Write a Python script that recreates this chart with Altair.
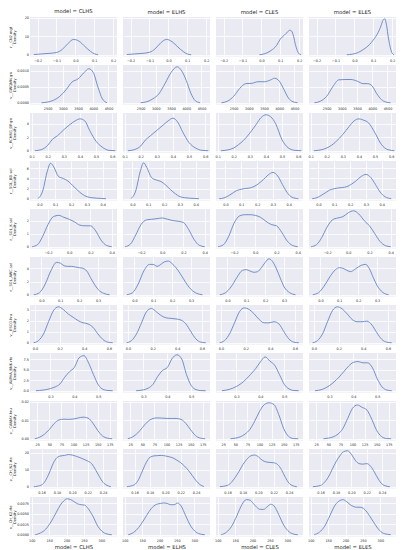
import altair as alt
import pandas as pd

MODELS = ["CLHS", "ELHS", "CLES", "ELES"]
PARAMS = ["r__CN2.mgt", "v__GWQMN.gw", "v__RCHRG_DP.gw", "r__SOL_BD.sol", "r__SOL_K.sol",
          "r__SOL_AWC.sol", "v__ESCO.hru", "v__ALPHA_BNK.rte", "v__CANMX.hru",
          "v__CH_N2.rte", "v__CH_K2.rte"]

# ---- density curves (one x grid per parameter) ----
CN2_X = [-0.22, -0.18, -0.14, -0.1, -0.07, -0.04, -0.01, 0.02, 0.05, 0.08, 0.1, 0.12, 0.14, 0.15, 0.16, 0.17, 0.18, 0.2, 0.21]
CN2_CLHS = [0.1, 0.4, 0.7, 1.2, 2.8, 6.0, 8.3, 7.3, 4.5, 1.8, 0.5, 0.0, None, None, None, None, None, None, None]
CN2_ELHS = [0.1, 0.4, 0.7, 1.3, 3.2, 6.5, 8.3, 7.0, 4.2, 1.6, 0.4, 0.0, None, None, None, None, None, None, None]
CN2_CLES = [None, None, None, None, None, None, 0.0, 0.6, 2.2, 5.0, 8.5, 10.5, 12.5, 13.3, 12.8, 10.0, 5.5, 0.4, 0.0]
CN2_ELES = [None, None, None, None, None, 0.0, 0.3, 1.2, 3.0, 5.5, 8.0, 11.0, 15.5, 18.5, 19.5, 16.0, 9.0, 0.8, 0.0]

GW_X = [2100, 2300, 2500, 2700, 2900, 3100, 3300, 3500, 3700, 3850, 4000, 4150, 4300, 4450, 4600]
GW_CLHS = [None, 0.0, 0.00002, 0.00008, 0.0002, 0.0004, 0.00065, 0.00075, 0.00095, 0.00107, 0.00095, 0.0005, 0.00012, 0.0, None]
GW_ELHS = [None, None, 0.0, 0.00003, 0.00012, 0.00028, 0.0006, 0.00095, 0.00113, 0.001, 0.0007, 0.0003, 0.00006, 0.0, None]
GW_CLES = [0.0, 0.00005, 0.0002, 0.00045, 0.0006, 0.00061, 0.00066, 0.00066, 0.00071, 0.00077, 0.00068, 0.00042, 0.00015, 0.00003, 0.0]
GW_ELES = [0.0, 0.00005, 0.0002, 0.0005, 0.00072, 0.00073, 0.00073, 0.00068, 0.0006, 0.0006, 0.00052, 0.00028, 0.0001, 0.00002, 0.0]

RC_X = [0.12, 0.16, 0.2, 0.23, 0.26, 0.3, 0.34, 0.37, 0.4, 0.43, 0.46, 0.5, 0.54, 0.58, 0.62]
RC_CLHS = [0.0, 0.15, 0.8, 1.7, 2.2, 3.1, 3.9, 4.4, 4.7, 4.4, 3.0, 1.4, 0.5, 0.05, 0.0]
RC_ELHS = [0.0, 0.15, 0.7, 1.6, 2.2, 3.0, 3.8, 4.4, 4.8, 4.2, 2.8, 1.2, 0.4, 0.05, 0.0]
RC_CLES = [0.0, 0.1, 0.4, 0.9, 1.5, 2.6, 3.9, 4.9, 5.3, 5.0, 4.0, 1.6, 0.4, 0.05, 0.0]
RC_ELES = [0.0, 0.1, 0.4, 0.8, 1.4, 2.4, 3.6, 4.4, 4.7, 4.5, 4.1, 2.6, 0.9, 0.15, 0.0]

BD_X = [-0.04, -0.01, 0.02, 0.05, 0.07, 0.09, 0.12, 0.15, 0.18, 0.21, 0.24, 0.27, 0.3, 0.33, 0.36, 0.39, 0.42, 0.46]
BD_CLHS = [None, 0.0, 1.5, 5.5, 7.0, 6.3, 4.4, 4.0, 3.5, 2.6, 1.7, 0.9, 0.4, 0.2, 0.1, 0.05, 0.0, None]
BD_ELHS = [None, 0.0, 1.5, 5.5, 7.1, 6.2, 4.2, 3.7, 3.4, 2.7, 1.8, 1.0, 0.4, 0.2, 0.1, 0.05, 0.0, None]
BD_CLES = [0.0, 0.15, 0.6, 1.2, 1.6, 1.8, 2.0, 2.1, 2.4, 3.0, 3.8, 4.7, 5.2, 4.5, 2.8, 1.2, 0.3, 0.0]
BD_ELES = [0.0, 0.2, 0.7, 1.3, 1.7, 1.9, 2.1, 2.2, 2.4, 2.9, 3.6, 4.4, 4.8, 4.2, 2.8, 1.3, 0.4, 0.0]

K_X = [-0.35, -0.3, -0.25, -0.2, -0.15, -0.1, -0.05, 0.0, 0.05, 0.1, 0.15, 0.2, 0.25, 0.3, 0.35, 0.4]
K_CLHS = [0.0, 0.15, 0.8, 1.7, 2.3, 2.4, 2.25, 2.1, 1.9, 1.65, 1.6, 1.6, 1.2, 0.5, 0.1, 0.0]
K_ELHS = [0.0, 0.2, 0.9, 1.7, 2.05, 2.1, 2.15, 2.2, 2.1, 2.0, 1.95, 1.85, 1.3, 0.55, 0.1, 0.0]
K_CLES = [0.0, 0.15, 0.8, 1.8, 2.35, 2.45, 2.45, 2.4, 2.25, 1.95, 1.7, 1.6, 1.1, 0.45, 0.1, 0.0]
K_ELES = [0.0, 0.15, 0.7, 1.5, 2.05, 2.2, 2.3, 2.6, 2.75, 2.5, 2.0, 1.6, 1.0, 0.4, 0.08, 0.0]

AWC_X = [-0.04, -0.01, 0.02, 0.05, 0.08, 0.1, 0.12, 0.14, 0.16, 0.18, 0.2, 0.22, 0.24, 0.26, 0.28, 0.3, 0.33, 0.36]
AWC_CLHS = [0.0, 0.3, 1.6, 3.6, 4.9, 4.8, 4.4, 4.3, 4.3, 4.2, 4.1, 4.0, 3.6, 2.6, 1.6, 0.8, 0.2, 0.0]
AWC_ELHS = [0.0, 0.3, 1.6, 3.6, 4.6, 4.6, 4.3, 4.6, 5.0, 5.1, 4.7, 4.1, 3.3, 2.4, 1.5, 0.8, 0.2, 0.0]
AWC_CLES = [0.0, 0.3, 1.2, 2.6, 3.7, 3.8, 3.6, 3.4, 3.5, 4.1, 4.9, 5.45, 5.0, 3.9, 2.5, 1.2, 0.3, 0.0]
AWC_ELES = [0.0, 0.3, 1.3, 2.7, 3.8, 4.1, 4.0, 3.7, 3.5, 3.8, 4.2, 4.5, 4.6, 3.9, 2.6, 1.4, 0.35, 0.0]

ESCO_X = [-0.01, 0.03, 0.07, 0.11, 0.15, 0.19, 0.23, 0.27, 0.31, 0.35, 0.39, 0.43, 0.47, 0.51, 0.55, 0.59, 0.63]
ESCO_CLHS = [0.0, 0.2, 0.8, 1.9, 2.9, 3.25, 3.0, 2.6, 2.3, 2.0, 1.8, 1.7, 1.4, 0.8, 0.3, 0.05, 0.0]
ESCO_ELHS = [0.0, 0.2, 0.8, 1.8, 2.8, 3.1, 2.8, 2.45, 2.25, 2.2, 2.15, 2.05, 1.7, 1.0, 0.35, 0.05, 0.0]
ESCO_CLES = [0.0, 0.2, 0.8, 1.8, 2.8, 3.15, 3.0, 2.6, 2.1, 1.8, 1.8, 1.9, 1.7, 1.0, 0.35, 0.05, 0.0]
ESCO_ELES = [0.0, 0.2, 0.8, 1.9, 2.9, 3.25, 3.05, 2.6, 2.1, 1.9, 1.9, 1.95, 1.6, 0.9, 0.3, 0.05, 0.0]

AB_X = [0.24, 0.27, 0.3, 0.32, 0.34, 0.36, 0.38, 0.4, 0.42, 0.44, 0.46, 0.48, 0.5, 0.52, 0.54, 0.56]
AB_CLHS = [0.0, 0.15, 0.5, 0.9, 1.6, 3.2, 4.5, 5.5, 7.8, 8.3, 6.5, 3.8, 1.4, 0.3, 0.05, 0.0]
AB_ELHS = [None, 0.0, 0.2, 0.6, 1.5, 3.4, 4.8, 5.5, 7.6, 8.5, 7.5, 3.8, 1.2, 0.25, 0.03, 0.0]
AB_CLES = [0.0, 0.3, 1.0, 1.7, 2.7, 3.9, 5.2, 6.8, 8.0, 7.0, 6.0, 3.8, 1.5, 0.4, 0.05, 0.0]
AB_ELES = [0.0, 0.3, 1.2, 2.1, 3.2, 4.5, 5.8, 6.7, 6.9, 6.6, 6.6, 5.4, 2.8, 0.9, 0.15, 0.0]

CAN_X = [20, 30, 40, 50, 60, 70, 80, 90, 100, 110, 120, 130, 140, 150, 160, 170, 180]
CAN_CLHS = [0.0, 0.0008, 0.0025, 0.005, 0.0082, 0.0102, 0.0106, 0.0105, 0.0107, 0.0113, 0.0117, 0.0112, 0.0085, 0.0045, 0.0015, 0.0003, 0.0]
CAN_ELHS = [0.0, 0.001, 0.003, 0.006, 0.009, 0.0108, 0.0113, 0.0112, 0.011, 0.011, 0.011, 0.0105, 0.0083, 0.0048, 0.0017, 0.0003, 0.0]
CAN_CLES = [None, None, 0.0, 0.0003, 0.001, 0.0025, 0.005, 0.0095, 0.0148, 0.0185, 0.0195, 0.0185, 0.013, 0.0055, 0.0013, 0.0001, 0.0]
CAN_ELES = [None, None, 0.0, 0.0003, 0.001, 0.0025, 0.0055, 0.011, 0.0165, 0.0183, 0.017, 0.0155, 0.0105, 0.0045, 0.0012, 0.0001, 0.0]

N2_X = [0.15, 0.16, 0.165, 0.17, 0.175, 0.18, 0.185, 0.19, 0.195, 0.2, 0.205, 0.21, 0.215, 0.22, 0.225, 0.23, 0.235, 0.24, 0.245, 0.25]
N2_CLHS = [0.0, 1.0, 3.5, 8.0, 13.5, 17.0, 18.0, 18.3, 18.8, 18.5, 17.8, 17.0, 16.0, 15.0, 13.5, 10.0, 6.0, 2.5, 0.8, 0.0]
N2_ELHS = [0.0, 1.2, 4.0, 9.0, 14.0, 17.2, 18.0, 18.2, 18.3, 18.0, 17.5, 16.8, 15.5, 14.0, 12.0, 9.5, 6.5, 3.5, 1.2, 0.1]
N2_CLES = [0.0, 0.8, 2.5, 5.5, 9.0, 13.0, 16.0, 18.0, 18.5, 17.5, 15.5, 14.5, 14.2, 14.0, 13.0, 10.0, 5.5, 2.0, 0.5, 0.0]
N2_ELES = [0.0, 0.7, 2.5, 5.5, 10.0, 14.5, 18.0, 20.5, 21.0, 19.0, 15.5, 13.5, 13.2, 13.5, 12.0, 8.5, 4.5, 1.5, 0.4, 0.0]

K2_X = [110, 125, 140, 155, 170, 182, 192, 202, 212, 222, 232, 242, 252, 262, 275, 290, 305, 320, 330]
K2_CLHS = [0.0, 0.0004, 0.0013, 0.003, 0.0052, 0.007, 0.008, 0.0085, 0.0083, 0.0078, 0.0073, 0.0071, 0.007, 0.0062, 0.0045, 0.002, 0.0006, 0.0001, 0.0]
K2_ELHS = [0.0, 0.0005, 0.0017, 0.0035, 0.0055, 0.0067, 0.0072, 0.0074, 0.0075, 0.0074, 0.0071, 0.0071, 0.0075, 0.0068, 0.0045, 0.002, 0.0006, 0.0001, 0.0]
K2_CLES = [0.0, 0.0006, 0.002, 0.0045, 0.0072, 0.0083, 0.0082, 0.0074, 0.0065, 0.006, 0.006, 0.0066, 0.0072, 0.0068, 0.0048, 0.0022, 0.0007, 0.0001, 0.0]
K2_ELES = [0.0, 0.0006, 0.002, 0.0045, 0.007, 0.008, 0.0083, 0.0079, 0.0072, 0.0067, 0.0065, 0.0065, 0.0062, 0.0053, 0.0037, 0.0018, 0.0005, 0.0001, 0.0]

# ---- axis settings per row: x domain, x ticks, x format, y ticks, y format ----
ROWS = [
    (CN2_X, [CN2_CLHS, CN2_ELHS, CN2_CLES, CN2_ELES], [-0.24, 0.22], [-0.2, -0.1, 0.0, 0.1, 0.2], ".1f", [0, 10, 20], "d"),
    (GW_X, [GW_CLHS, GW_ELHS, GW_CLES, GW_ELES], [1920, 4780], [2500, 3000, 3500, 4000, 4500], "d", [0.0, 0.0005, 0.001], ".4f"),
    (RC_X, [RC_CLHS, RC_ELHS, RC_CLES, RC_ELES], [0.09, 0.63], [0.1, 0.2, 0.3, 0.4, 0.5, 0.6], ".1f", [0, 2, 4], "d"),
    (BD_X, [BD_CLHS, BD_ELHS, BD_CLES, BD_ELES], [-0.06, 0.49], [0.0, 0.1, 0.2, 0.3, 0.4], ".1f", [0, 2, 4, 6], "d"),
    (K_X, [K_CLHS, K_ELHS, K_CLES, K_ELES], [-0.37, 0.45], [-0.2, 0.0, 0.2, 0.4], ".1f", [0, 1, 2], "d"),
    (AWC_X, [AWC_CLHS, AWC_ELHS, AWC_CLES, AWC_ELES], [-0.06, 0.40], [0.0, 0.1, 0.2, 0.3], ".1f", [0, 2, 4], "d"),
    (ESCO_X, [ESCO_CLHS, ESCO_ELHS, ESCO_CLES, ESCO_ELES], [-0.04, 0.665], [0.0, 0.2, 0.4, 0.6], ".1f", [0, 1, 2, 3], "d"),
    (AB_X, [AB_CLHS, AB_ELHS, AB_CLES, AB_ELES], [0.215, 0.578], [0.3, 0.4, 0.5], ".1f", [0.0, 2.5, 5.0, 7.5], ".1f"),
    (CAN_X, [CAN_CLHS, CAN_ELHS, CAN_CLES, CAN_ELES], [10, 190], [25, 50, 75, 100, 125, 150, 175], "d", [0.0, 0.01, 0.02], ".2f"),
    (N2_X, [N2_CLHS, N2_ELHS, N2_CLES, N2_ELES], [0.145, 0.258], [0.16, 0.18, 0.20, 0.22, 0.24], ".2f", [0, 10, 20], "d"),
    (K2_X, [K2_CLHS, K2_ELHS, K2_CLES, K2_ELES], [95, 345], [100, 150, 200, 250, 300], "d", [0.0, 0.0025, 0.005, 0.0075], ".4f"),
]

LINE = "#6585C4"
TEXT = "#262626"
FONT = "DejaVu Sans"
PW, PH = 87, 39.5

panels = []
n_rows = len(ROWS)
for r, (xs, series, xdom, xticks, xfmt, yticks, yfmt) in enumerate(ROWS):
    param = PARAMS[r]
    ymax = max(v for s in series for v in s if v is not None)
    ydom = [-0.05 * ymax, 1.05 * ymax]
    for c, (model, ys) in enumerate(zip(MODELS, series)):
        df = pd.DataFrame({"value": xs, "density": ys}).dropna()
        last = r == n_rows - 1
        xaxis = alt.Axis(values=xticks, format=xfmt, grid=True, labelOverlap=False,
                         labelFlush=False, labelPadding=1.5,
                         title=(f"model = {model}" if last else None),
                         titleFontSize=5.3, titlePadding=3)
        if c == 0:
            yaxis = alt.Axis(values=yticks, format=yfmt, grid=True, labelOverlap=False,
                             labelFlush=False, labelPadding=1.5,
                             title=[param, "Density"], titleFontSize=3.6,
                             titleLineHeight=4.2, titlePadding=1.5,
                             minExtent=12, maxExtent=12)
        else:
            yaxis = alt.Axis(values=yticks, grid=True, labels=False, title=None,
                             minExtent=0, maxExtent=0)
        ch = alt.Chart(df).mark_line(color=LINE, strokeWidth=0.9, interpolate="monotone", clip=True).encode(
            x=alt.X("value:Q", scale=alt.Scale(domain=xdom, nice=False, zero=False), axis=xaxis),
            y=alt.Y("density:Q", scale=alt.Scale(domain=ydom, nice=False, zero=False), axis=yaxis),
        ).properties(width=PW, height=PH)
        if r == 0:
            ch = ch.properties(title=f"model = {model}")
        panels.append(ch)

chart = alt.concat(*panels, columns=4, spacing={"row": 8, "column": 6}, bounds="flush").properties(
    padding=0, background="white"
).configure_view(
    fill="#EAEAF2", strokeWidth=0
).configure_axis(
    domain=False, ticks=False, gridColor="white", gridWidth=0.8, gridOpacity=1,
    labelFont=FONT, titleFont=FONT, labelFontSize=3.4, labelColor=TEXT,
    titleColor=TEXT, titleFontWeight="normal"
).configure_title(
    font=FONT, fontSize=5.3, fontWeight="normal", color=TEXT, offset=2
)

chart.save("out.html", embed_options={"renderer": "svg", "actions": False})
